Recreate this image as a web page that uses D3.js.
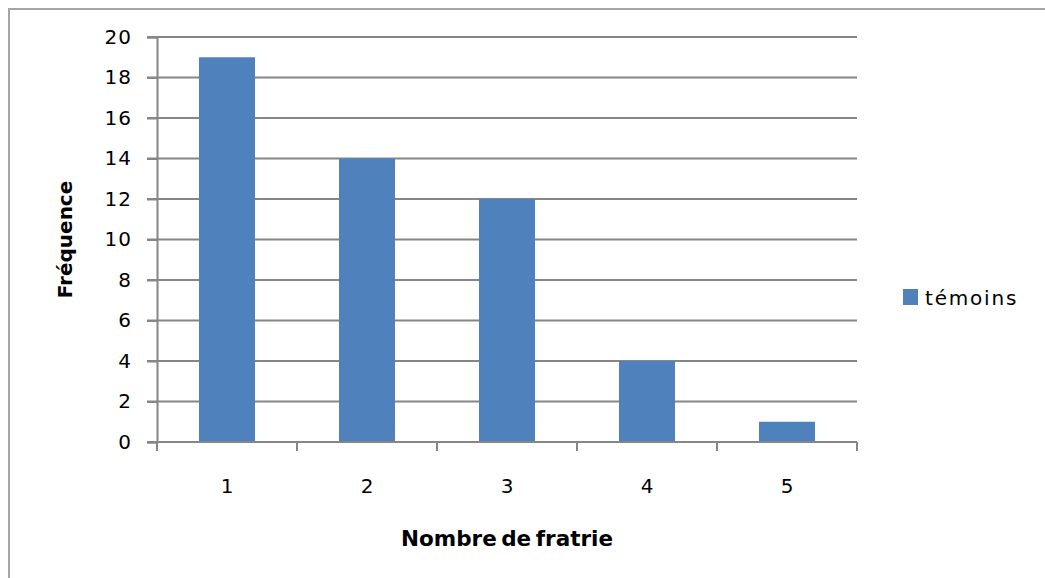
<!DOCTYPE html>
<html>
<head>
<meta charset="utf-8">
<script src="https://cdn.jsdelivr.net/npm/d3@7"></script>
<style>
  html, body { margin: 0; padding: 0; background: #fff; }
  svg { display: block; }
  .tick-label { font-family: "DejaVu Sans", Verdana, sans-serif; font-size: 20px; letter-spacing: 1px; fill: #000; }
  .axis-title { font-family: "DejaVu Sans", sans-serif; font-weight: bold; font-size: 20px; fill: #000; }
</style>
</head>
<body>
<svg id="chart" width="1045" height="578"></svg>
<script>
// Frequency of sibling counts for the control group
const categories = ["1", "2", "3", "4", "5"];
const temoins = [19, 14, 12, 4, 1];
const yTicks = [0, 2, 4, 6, 8, 10, 12, 14, 16, 18, 20];
const seriesName = "témoins";
const xTitle = "Nombre de fratrie";
const yTitle = "Fréquence";

const svg = d3.select("#chart");
const W = 1045, H = 578;
const plot = { left: 157, right: 857, top: 37, bottom: 442 };
const gridColor = "#868686";
const barColor = "#4f81bd";

// outer chart frame (only top and left edges fall inside the view)
svg.append("rect")
  .attr("x", 9).attr("y", 9)
  .attr("width", W + 40).attr("height", H + 40)
  .attr("fill", "#fff")
  .attr("stroke", "#a6a6a6").attr("stroke-width", 2);

const x = d3.scaleBand()
  .domain(categories)
  .range([plot.left, plot.right])
  .paddingInner(0.6)
  .paddingOuter(0.3);

const y = d3.scaleLinear()
  .domain([0, 20])
  .range([plot.bottom, plot.top]);

// horizontal gridlines (extend left as tick marks)
svg.append("g")
  .selectAll("line")
  .data(yTicks)
  .join("line")
  .attr("x1", plot.left - 10)
  .attr("x2", plot.right)
  .attr("y1", d => y(d))
  .attr("y2", d => y(d))
  .attr("stroke", gridColor)
  .attr("stroke-width", 2);

// y axis
const yAxis = svg.append("g")
  .attr("transform", `translate(${plot.left},0)`)
  .call(d3.axisLeft(y).tickValues(yTicks).tickSize(10).tickPadding(15));
yAxis.select(".domain").attr("stroke", gridColor).attr("stroke-width", 2);
yAxis.selectAll(".tick line").attr("stroke", gridColor).attr("stroke-width", 2);
yAxis.selectAll(".tick text")
  .attr("class", "tick-label")
  .attr("font-size", null).attr("font-family", null);

// bars
svg.append("g")
  .selectAll("rect")
  .data(temoins)
  .join("rect")
  .attr("x", (d, i) => x(categories[i]))
  .attr("y", d => y(d))
  .attr("width", x.bandwidth())
  .attr("height", d => y(0) - y(d))
  .attr("fill", barColor);

// x axis baseline
svg.append("line")
  .attr("x1", plot.left - 10).attr("x2", plot.right)
  .attr("y1", y(0)).attr("y2", y(0))
  .attr("stroke", gridColor).attr("stroke-width", 2);

// x tick marks at category boundaries
const step = x.step();
const boundaries = categories.map(c => x(c) - x.paddingInner() * step / 2);
boundaries.push(plot.right);
svg.append("g")
  .selectAll("line")
  .data(boundaries)
  .join("line")
  .attr("x1", d => d).attr("x2", d => d)
  .attr("y1", y(0)).attr("y2", y(0) + 9)
  .attr("stroke", gridColor).attr("stroke-width", 2);

// x tick labels
svg.append("g")
  .selectAll("text")
  .data(categories)
  .join("text")
  .attr("class", "tick-label")
  .attr("x", d => x(d) + x.bandwidth() / 2 + 0.5)
  .attr("y", 493)
  .attr("text-anchor", "middle")
  .text(d => d);

// axis titles
svg.append("text")
  .attr("class", "axis-title")
  .attr("x", (plot.left + plot.right) / 2)
  .attr("y", 546)
  .attr("text-anchor", "middle")
  .attr("word-spacing", "-3")
  .style("font-size", "21.5px")
  .text(xTitle);

svg.append("text")
  .attr("class", "axis-title")
  .attr("transform", `translate(72,${(plot.top + plot.bottom) / 2}) rotate(-90)`)
  .attr("text-anchor", "middle")
  .text(yTitle);

// legend
const legend = svg.append("g").attr("transform", "translate(903,289)");
legend.append("rect")
  .attr("width", 15).attr("height", 16)
  .attr("fill", barColor);
legend.append("text")
  .attr("class", "tick-label")
  .attr("x", 22).attr("y", 16)
  .style("letter-spacing", "1.8px")
  .text(seriesName);
</script>
</body>
</html>
